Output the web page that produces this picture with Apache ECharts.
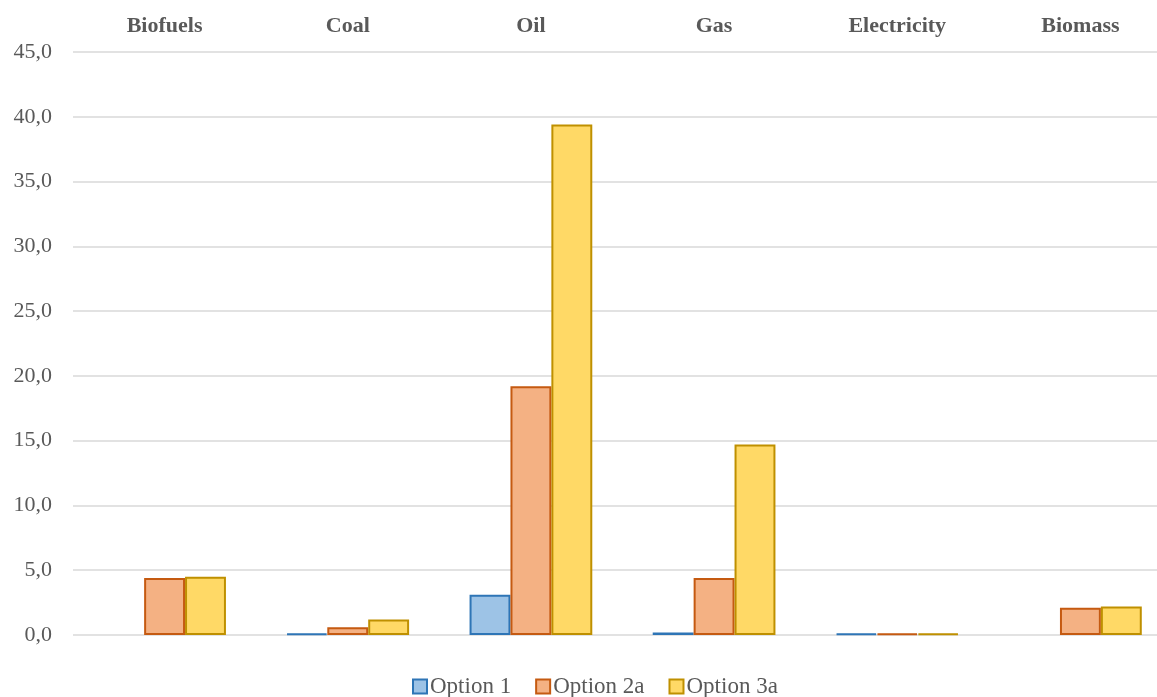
<!DOCTYPE html>
<html>
<head>
<meta charset="utf-8">
<script src="https://cdn.jsdelivr.net/npm/echarts@6/dist/echarts.min.js"></script>
<style>
  html, body { margin: 0; padding: 0; background: #fff; overflow: hidden; }
  #chart { width: 1172px; height: 697px; }
</style>
</head>
<body>
<div id="chart"></div>
<script>
// Energy carriers shown along the top of the chart
const categories = ['Biofuels', 'Coal', 'Oil', 'Gas', 'Electricity', 'Biomass'];
const seriesNames = ['Option 1', 'Option 2a', 'Option 3a'];
// '-' marks a carrier with no value for that option
const option1 = ['-', 0.1, 3.1, 0.2, 0.1, '-'];
const option2a = [4.4, 0.6, 19.2, 4.4, 0.1, 2.1];
const option3a = [4.5, 1.2, 39.4, 14.7, 0.1, 2.2];

const fills = ['#9DC3E6', '#F4B183', '#FFD966'];
const borders = ['#2E75B6', '#C55A11', '#BF9000'];
const FONT = '"Liberation Serif", "Times New Roman", serif';
const TEXT = '#595959';

const values = [option1, option2a, option3a];

const chart = echarts.init(document.getElementById('chart'), null, { renderer: 'canvas' });
chart.setOption({
  backgroundColor: '#fff',
  animation: false,
  textStyle: { fontFamily: FONT },
  grid: { left: 73, right: 0, top: 52, bottom: 62 },
  legend: {
    bottom: -6,
    left: 407,
    itemWidth: 14,
    itemHeight: 14,
    itemGap: 24,
    icon: 'rect',
    textStyle: { fontFamily: FONT, fontSize: 23, color: TEXT, padding: [0, 0, 0, -2] },
    data: seriesNames
  },
  xAxis: {
    type: 'category',
    position: 'top',
    data: categories,
    axisLine: { show: false },
    axisTick: { show: false },
    axisLabel: { fontFamily: FONT, fontSize: 22, fontWeight: 'bold', color: TEXT, margin: 15 }
  },
  yAxis: {
    type: 'value',
    min: 0,
    max: 45,
    interval: 5,
    axisLine: { show: false },
    axisTick: { show: false },
    axisLabel: {
      fontFamily: FONT, fontSize: 22, color: TEXT, margin: 21,
      formatter: v => v.toFixed(1).replace('.', ',')
    },
    splitLine: { lineStyle: { color: '#D9D9D9', width: 1.5 } }
  },
  series: seriesNames.map((name, i) => ({
    name,
    type: 'bar',
    data: values[i],
    barGap: '0%',
    barCategoryGap: '33%',
    itemStyle: { color: fills[i], borderColor: borders[i], borderWidth: 2 }
  }))
});
</script>
</body>
</html>
